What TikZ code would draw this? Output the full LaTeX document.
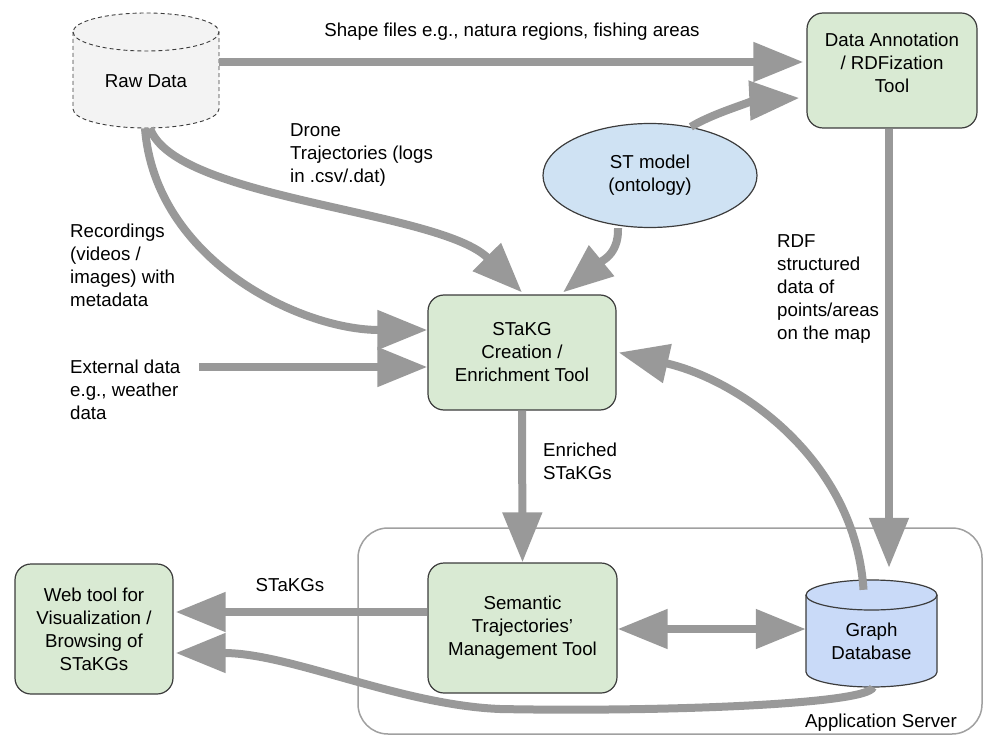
\documentclass[tikz,border=0pt]{standalone}
\usepackage{fontspec}
\setmainfont{Liberation Sans}
\usetikzlibrary{arrows.meta,shapes.geometric}
\definecolor{grn}{HTML}{D9EAD3}
\definecolor{stc}{HTML}{CFE2F3}
\definecolor{gdbc}{HTML}{C9DAF8}
\definecolor{rawc}{HTML}{F3F3F3}
\definecolor{arr}{HTML}{999999}
\definecolor{bordc}{HTML}{3C3C3C}
\definecolor{appc}{HTML}{A0A0A0}
\begin{document}
\begin{tikzpicture}[x=1pt,y=1pt,
  every node/.style={font=\fontsize{18.7}{23}\selectfont, inner sep=0pt, text=black},
  box/.style={draw=bordc, line width=1.2pt, fill=grn, rounded corners=16pt, align=center},
  ghost/.style={inner sep=0pt},
  lbl/.style={align=left, anchor=west},
  flow/.style={draw=arr, line width=8pt, -{Triangle[length=50pt,width=38pt]}},
  dflow/.style={draw=arr, line width=8pt, {Triangle[length=50pt,width=38pt]}-{Triangle[length=50pt,width=38pt]}}]
\useasboundingbox (0,0) rectangle (984,-735);

% Application server container
\node[draw=appc, line width=1.5pt, rounded corners=30pt, minimum width=624pt, minimum height=206pt] (app) at (670,-631) {};
\node (applabel) at (881,-723) {Application Server};

% Raw Data cylinder
\node[ghost, minimum width=146pt, minimum height=115pt] (raw) at (146,-70.5) {};
\path[fill=rawc] (73,-32) -- (73,-109) arc[start angle=180,end angle=360,x radius=73pt,y radius=19pt] -- (219,-32) arc[start angle=0,end angle=180,x radius=73pt,y radius=19pt] -- cycle;
\draw[draw=bordc, line width=0.9pt, dash pattern=on 4pt off 3pt] (73,-32) -- (73,-109) arc[start angle=180,end angle=360,x radius=73pt,y radius=19pt] -- (219,-32) arc[start angle=0,end angle=180,x radius=73pt,y radius=19pt];
\draw[draw=bordc, line width=0.9pt, dash pattern=on 4pt off 3pt] (73,-32) arc[start angle=180,end angle=360,x radius=73pt,y radius=19pt];
\node (rawtext) at (146,-81) {Raw Data};

% Graph Database cylinder
\node[ghost, minimum width=131pt, minimum height=107pt] (gdb) at (871.5,-633.5) {};
\filldraw[fill=gdbc, draw=bordc, line width=1.2pt] (806,-595) -- (806,-672) arc[start angle=180,end angle=360,x radius=65.5pt,y radius=15pt] -- (937,-595) arc[start angle=0,end angle=180,x radius=65.5pt,y radius=15pt] -- cycle;
\draw[draw=bordc, line width=1.2pt] (806,-595) arc[start angle=180,end angle=360,x radius=65.5pt,y radius=15pt];
\node[align=center] (gdbtext) at (871.5,-641.5) {Graph\\Database};

% Boxes
\node[box, minimum width=170pt, minimum height=115pt] (ann) at (892,-70.5) {};
\node[align=center] (anntext) at (892,-63) {Data Annotation\\/ RDFization\\Tool};
\node[box, minimum width=188pt, minimum height=115pt] (stakg) at (522,-352.5) {STaKG\\Creation /\\Enrichment Tool};
\node[box, minimum width=189pt, minimum height=130pt] (sem) at (522.5,-628) {Semantic\\Trajectories'\\Management Tool};
\node[box, minimum width=158pt, minimum height=130pt] (web) at (94,-629) {Web tool for\\Visualization /\\Browsing of\\STaKGs};
\node[ellipse, draw=bordc, line width=1.2pt, fill=stc, minimum width=214pt, minimum height=104pt, align=center] (st) at (650,-175.5) {ST model\\(ontology)};

% Labels
\node (shapelbl) at (512,-32) {Shape files e.g., natura regions, fishing areas};
\node[lbl] (dronelbl) at (290,-155) {Drone\\Trajectories (logs\\in .csv/.dat)};
\node[lbl] (reclbl) at (70,-265.5) {Recordings\\(videos /\\images) with\\metadata};
\node[lbl] (extlbl) at (70,-390) {External data\\e.g., weather\\data};
\node[lbl] (rdflbl) at (777,-289.5) {RDF\\structured\\data of\\points/areas\\on the map};
\node[lbl] (enrlbl) at (543,-461.5) {Enriched\\STaKGs};
\node (stakgslbl) at (290,-585) {STaKGs};
\coordinate (extstart) at (199,-367);

% Connectors
\draw[flow] ([yshift=8.5pt]raw.east) -- ([yshift=8.5pt,xshift=-3pt]ann.west);
\draw[flow] ([xshift=4pt]raw.south) .. controls (175,-200) and (440,-210) .. ([yshift=2pt]stakg.north);
\draw[flow] ([xshift=-1pt]raw.south) .. controls (155,-260) and (300,-330) .. ([yshift=22.5pt]stakg.west);
\draw[flow] (extstart) -- ([yshift=-14.5pt]stakg.west);
\draw[flow] ([xshift=-32pt]st.south) .. controls (619,-255) and (600,-262) .. ([xshift=41pt,yshift=2pt]stakg.north);
\draw[flow] (st.50) .. controls (715,-112) and (760,-100) .. ([yshift=-27.5pt,xshift=-7pt]ann.west);
\draw[flow] ([xshift=-3pt]ann.south) -- ([xshift=17.5pt,yshift=12pt]gdb.north);
\draw[flow] (stakg.south) -- (sem.north);
\draw[dflow] ([yshift=-1pt]sem.east) -- ([yshift=4.5pt]gdb.west);
\draw[flow] ([yshift=16pt]sem.west) -- ([yshift=17pt,xshift=2pt]web.east);
\draw[flow] ([xshift=-8pt,yshift=-10pt]gdb.north) .. controls (855,-460) and (740,-380) .. ([xshift=2pt]stakg.east);
\draw[flow] ([xshift=1.5pt]gdb.south) .. controls (868,-705) and (650,-712) .. (500,-709) .. controls (400,-705) and (290,-653) .. ([yshift=-24pt,xshift=2pt]web.east);
\end{tikzpicture}
\end{document}
